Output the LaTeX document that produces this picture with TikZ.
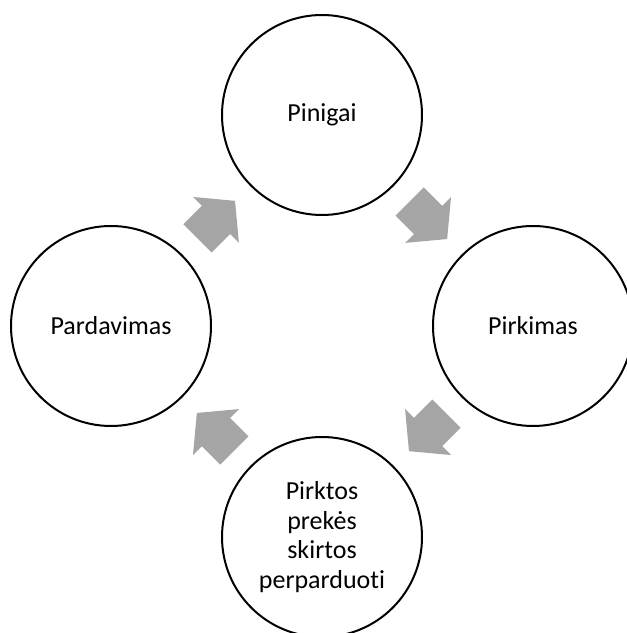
\documentclass[tikz,border=0pt]{standalone}
\usepackage{fontspec}
\setmainfont{Carlito}[Ligatures=NoCommon]
\definecolor{arrowgray}{HTML}{A5A5A5}
\tikzset{
  stage/.style={circle, draw=black, line width=2pt, fill=white, minimum size=200pt, inner sep=0pt,
    align=center, font=\fontsize{26}{29.5}\selectfont},
  cyclearrow/.pic={\fill[arrowgray] (-26,-20) -- (0,-20) -- (0,-32.5) -- (27,0) -- (0,32.5) -- (0,20) -- (-26,20) -- cycle;}
}
\begin{document}
\begin{tikzpicture}[x=1pt,y=1pt]
\useasboundingbox (0,0) rectangle (627,633);
\clip (0,0) rectangle (627,633);
\coordinate (C) at (322,307);
\node[stage] (pinigai) at ([shift={(90:211)}]C) {Pinigai};
\node[stage] (pirkimas) at ([shift={(0:211)}]C) {Pirkimas};
\node[stage] (prekes) at ([shift={(-90:211)}]C) {Pirktos\\prekės\\skirtos\\perparduoti};
\node[stage] (pardavimas) at ([shift={(180:211)}]C) {Pardavimas};
\pic[rotate=45] at ([shift={(135:150)}]C) {cyclearrow};
\pic[rotate=-45] at ([shift={(45:150)}]C) {cyclearrow};
\pic[rotate=-135] at ([shift={(-45:150)}]C) {cyclearrow};
\pic[rotate=135] at ([shift={(-135:150)}]C) {cyclearrow};
\end{tikzpicture}
\end{document}
